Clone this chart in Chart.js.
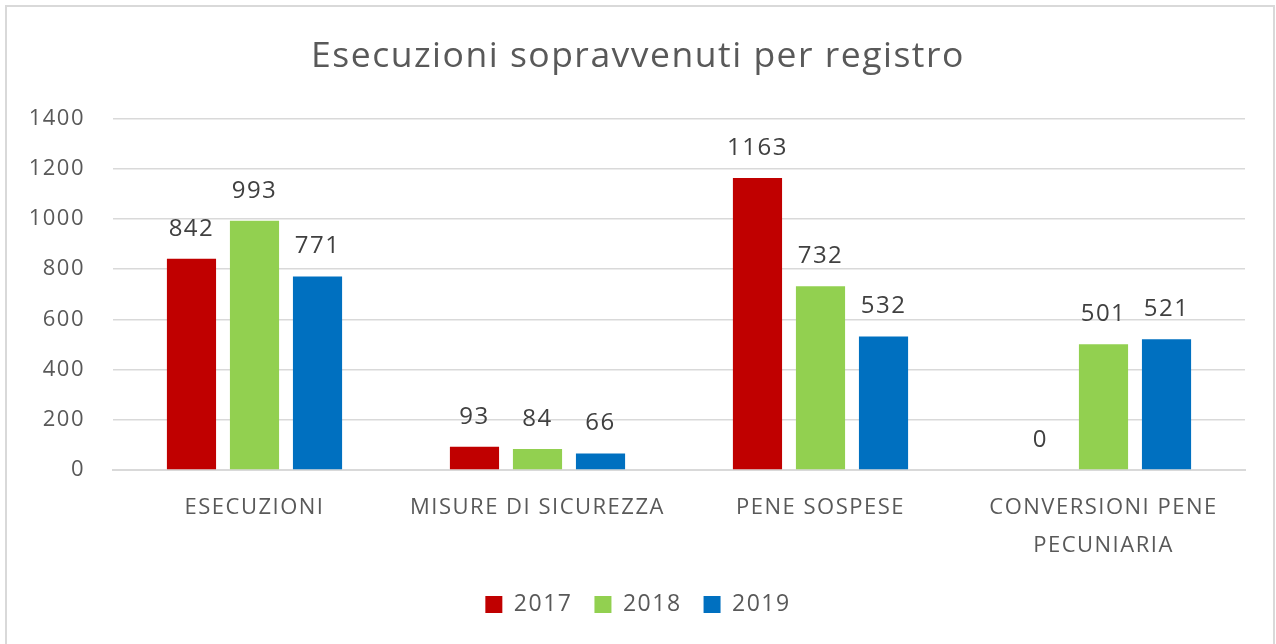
<!DOCTYPE html>
<html>
<head>
<meta charset="utf-8">
<script src="https://cdn.jsdelivr.net/npm/chart.js@4"></script>
<style>
  body { margin: 0; background: #fff; }
  #frame {
    position: absolute; left: 5px; top: 5px;
    width: 1266px; height: 660px;
    border: 2px solid #d9d9d9;
  }
  #wrap { position: absolute; left: 0; top: 0; width: 1276px; height: 644px; }
</style>
</head>
<body>
<div id="frame"></div>
<div id="wrap"><canvas id="chart"></canvas></div>
<script>
  // ── Data ──────────────────────────────────
  var categories = ["ESECUZIONI", "MISURE DI SICUREZZA", "PENE SOSPESE", ["CONVERSIONI PENE", "PECUNIARIA"]];
  var years = ["2017", "2018", "2019"];
  var values2017 = [842, 93, 1163, 0];
  var values2018 = [993, 84, 732, 501];
  var values2019 = [771, 66, 532, 521];
  var yTicks = [0, 200, 400, 600, 800, 1000, 1200, 1400];

  var FONT = "'Open Sans', sans-serif";

  // slightly spaced lettering, like the original
  var spacing = {
    id: "spacing",
    beforeUpdate: function (chart) { chart.ctx.letterSpacing = "1.5px"; },
    beforeDraw: function (chart) { chart.ctx.letterSpacing = "1.5px"; },
  };

  // value labels above each bar
  var barLabels = {
    id: "barLabels",
    afterDatasetsDraw: function (chart) {
      var ctx = chart.ctx;
      ctx.save();
      ctx.font = "24px " + FONT;
      ctx.fillStyle = "#404040";
      ctx.textAlign = "center";
      ctx.textBaseline = "middle";
      chart.data.datasets.forEach(function (ds, i) {
        chart.getDatasetMeta(i).data.forEach(function (bar, j) {
          ctx.fillText(String(ds.data[j]), bar.x, bar.y - 30);
        });
      });
      ctx.restore();
    },
  };

  new Chart(document.getElementById("chart"), {
    type: "bar",
    data: {
      labels: categories,
      datasets: [
        { label: years[0], data: values2017, backgroundColor: "#c00000" },
        { label: years[1], data: values2018, backgroundColor: "#92d050" },
        { label: years[2], data: values2019, backgroundColor: "#0070c0" },
      ],
    },
    options: {
      responsive: true,
      maintainAspectRatio: false,
      animation: false,
      categoryPercentage: 0.668,
      barPercentage: 0.78,
      layout: { padding: { left: 31, right: 31, top: 0, bottom: 18 } },
      plugins: {
        title: {
          display: true,
          text: "Esecuzioni sopravvenuti per registro",
          color: "#595959",
          font: { family: FONT, size: 35.5, weight: "normal" },
          padding: { top: 36, bottom: 40 },
        },
        legend: {
          position: "bottom",
          labels: {
            color: "#595959",
            font: { family: FONT, size: 23 },
            boxWidth: 17,
            boxHeight: 17,
            padding: 22,
          },
        },
        tooltip: { enabled: false },
      },
      scales: {
        y: {
          min: 0,
          max: 1400,
          afterBuildTicks: function (scale) {
            scale.ticks = yTicks.map(function (v) { return { value: v }; });
          },
          afterFit: function (scale) { scale.width = 82; },
          ticks: {
            color: "#595959",
            font: { family: FONT, size: 22 },
            padding: 28,
            callback: function (v) { return String(v); },
          },
          grid: { color: "#d9d9d9", lineWidth: 1.5, drawTicks: false },
          border: { display: false },
        },
        x: {
          afterFit: function (scale) { scale.height = 101; },
          ticks: {
            color: "#595959",
            font: { family: FONT, size: 22, lineHeight: 1.75 },
            padding: 10,
            maxRotation: 0,
          },
          grid: { display: false },
          border: { color: "#d9d9d9", width: 2 },
        },
      },
    },
    plugins: [spacing, barLabels],
  });
</script>
</body>
</html>
